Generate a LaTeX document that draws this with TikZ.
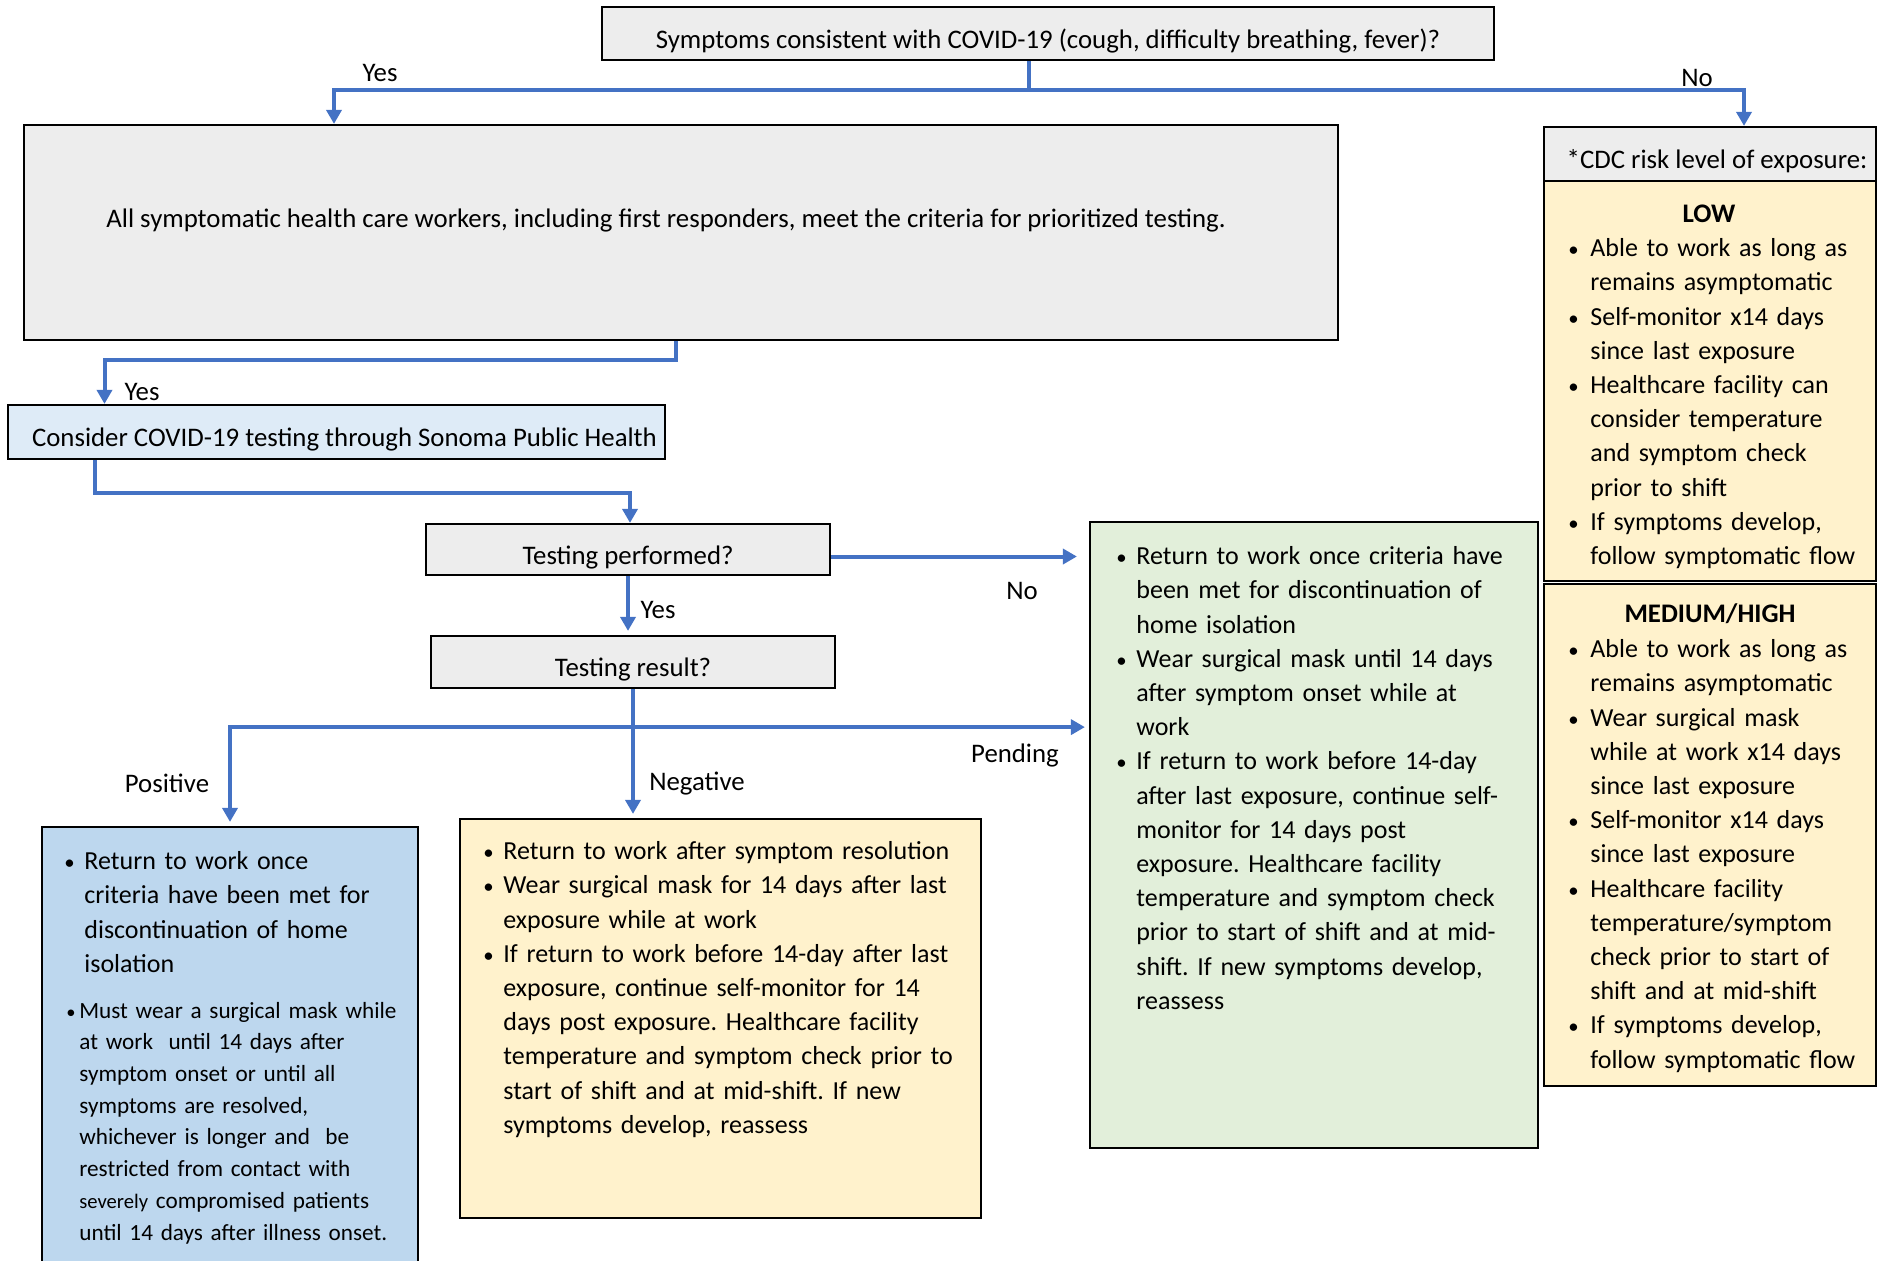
\documentclass[tikz,border=0pt]{standalone}
\usepackage{fontspec}
\setmainfont{Carlito}
\usetikzlibrary{arrows.meta,positioning}

\definecolor{flowblue}{HTML}{4472C4}
\definecolor{boxgray}{HTML}{EDEDED}
\definecolor{considerblue}{HTML}{DEEBF7}
\definecolor{posblue}{HTML}{BDD7EE}
\definecolor{negyellow}{HTML}{FFF2CC}
\definecolor{pendgreen}{HTML}{E2EFDA}

\newcommand{\bodyfont}{\fontsize{13.4}{17.1}\selectfont\frenchspacing}
\newcommand{\listfont}{\fontsize{13}{17.1}\selectfont\frenchspacing}
\newcommand{\smallbody}{\fontsize{11.6}{15.85}\selectfont\frenchspacing}
\newcommand{\itm}[1][10pt]{\par\leftskip=#1\noindent\llap{\makebox[#1][l]{\scalebox{0.8}{\textbullet}}}\ignorespaces}

\tikzset{
	box/.style={draw=black, line width=1.1pt, fill=boxgray, inner sep=0pt, font=\bodyfont, text height=14.5pt, text depth=0pt},
	flow/.style={draw=flowblue, line width=2pt, -{Triangle[length=7pt,width=7.5pt]}},
	lbl/.style={inner sep=0pt, font=\bodyfont},
	txt/.style={inner sep=0pt, anchor=north west, align=left, font=\listfont},
}

\begin{document}
\begin{tikzpicture}[x=0.5pt,y=-0.5pt]
	\clip (0,0) rectangle (1883,1260);
	\useasboundingbox (0,0) rectangle (1883,1260);

	% boxes
	\node[box, minimum width=446pt, minimum height=26.5pt] (q) at (1048,33.5) {Symptoms consistent with COVID-19 (cough, difficulty breathing, fever)?};
	\node[box, minimum width=657pt, minimum height=107.5pt] (allbox) at (681,232.5) {};
	\node[lbl] (alltext) at (666,220) {All symptomatic health care workers, including first responders, meet the criteria for prioritized testing.};
	\node[box, fill=considerblue, minimum width=328.5pt, minimum height=27pt] (consider) at (336.5,432) {\hspace*{8pt}Consider COVID-19 testing through Sonoma Public Health};
	\node[box, minimum width=202pt, minimum height=25.5pt] (tp) at (628,549.5) {Testing performed?};
	\node[box, minimum width=202pt, minimum height=26pt] (tr) at (633,662) {Testing result?};
	\node[box, fill=posblue, minimum width=188pt, minimum height=221.5pt] (pos) at (230,1048.5) {};
	\node[box, fill=negyellow, minimum width=260.5pt, minimum height=199.5pt] (neg) at (720.5,1018.5) {};
	\node[box, fill=pendgreen, minimum width=224pt, minimum height=313pt] (pend) at (1314,835) {};
	\node[box, minimum width=166pt, minimum height=27pt] (cdc) at (1710,154) {\hspace*{7pt}*CDC risk level of exposure:};
	\node[box, fill=negyellow, minimum width=166pt, minimum height=200pt] (low) at (1710,381) {};
	\node[box, fill=negyellow, minimum width=166pt, minimum height=251pt] (med) at (1710,835) {};

	% box texts
	\node[txt, text width=175pt] (postextA) at (64,835) {%
		\itm Return to work once\\ criteria have been met for\\ discontinuation of home\\ isolation\par};
	\node[txt, text width=180pt, font=\smallbody] (postextB) at (66,986) {%
		\itm[6.5pt] Must wear a surgical mask while\\ at work\ \ until 14 days after\\ symptom onset or until all\\ symptoms are resolved,\\ whichever is longer and\ \ be\\ restricted from contact with\\ {\fontsize{10.3}{15.85}\selectfont severely} compromised patients\\ until 14 days after illness onset.\par};
	\node[txt, text width=255pt] (negtext) at (483,825) {%
		\itm Return to work after symptom resolution
		\itm Wear surgical mask for 14 days after last\\ exposure while at work
		\itm If return to work before 14-day after last\\ exposure, continue self-monitor for 14\\ days post exposure. Healthcare facility\\ temperature and symptom check prior to\\ start of shift and at mid-shift. If new\\ symptoms develop, reassess\par};
	\node[txt, text width=215pt] (pendtext) at (1116,530) {%
		\itm Return to work once criteria have\\ been met for discontinuation of\\ home isolation
		\itm Wear surgical mask until 14 days\\ after symptom onset while at\\ work
		\itm If return to work before 14-day\\ after last exposure, continue self-\\ monitor for 14 days post\\ exposure. Healthcare facility\\ temperature and symptom check\\ prior to start of shift and at mid-\\ shift. If new symptoms develop,\\ reassess\par};
	\node[lbl, font=\bodyfont\bfseries] (lowhead) at (1709,214) {LOW};
	\node[txt, text width=160pt] (lowtext) at (1568,222) {%
		\itm[11pt] Able to work as long as\\ remains asymptomatic
		\itm[11pt] Self-monitor x14 days\\ since last exposure
		\itm[11pt] Healthcare facility can\\ consider temperature\\ and symptom check\\ prior to shift
		\itm[11pt] If symptoms develop,\\ follow symptomatic flow\par};
	\node[lbl, font=\bodyfont\bfseries] (medhead) at (1710,614) {MEDIUM/HIGH};
	\node[txt, text width=160pt] (medtext) at (1568,623) {%
		\itm[11pt] Able to work as long as\\ remains asymptomatic
		\itm[11pt] Wear surgical mask\\ while at work x14 days\\ since last exposure
		\itm[11pt] Self-monitor x14 days\\ since last exposure
		\itm[11pt] Healthcare facility\\ temperature/symptom\\ check prior to start of\\ shift and at mid-shift
		\itm[11pt] If symptoms develop,\\ follow symptomatic flow\par};

	% labels
	\node[lbl] (yes1) at (380,73) {Yes};
	\node[lbl] (no1) at (1697,78) {No};
	\node[lbl] (yes2) at (142,392) {Yes};
	\node[lbl] (no2) at (1022,591) {No};
	\node[lbl] (yes3) at (658,610) {Yes};
	\node[lbl] (positive) at (167,783) {Positive};
	\node[lbl] (negative) at (697,784) {Negative};
	\node[lbl] (pending) at (1015,755) {Pending};

	% connectors
	\draw[flow] ([xshift=-9.5pt]q.south) -- ++(0,29) -| ([xshift=-173.5pt]allbox.north);
	\draw[flow] ([xshift=-9.5pt]q.south) -- ++(0,29) -| ([xshift=17pt]cdc.north);
	\draw[flow] ([xshift=-2.5pt]allbox.south) -- ++(0,19) -| ([xshift=-116pt]consider.north);
	\draw[flow] ([xshift=-121pt]consider.south) -- ++(0,33) -| ([xshift=1pt]tp.north);
	\draw[flow, shorten >=6pt] ([yshift=-3.5pt]tp.east) -- ([yshift=-3.5pt]tp.east -| pend.west);
	\draw[flow, shorten >=2pt] (tp.south) -- (tp.south |- tr.north);
	\coordinate (split) at ([yshift=-19pt]tr.south);
	\draw[flow, shorten >=2pt] (tr.south) -- (tr.south |- neg.north);
	\draw[flow, shorten >=2pt] (split) -| (pos.north);
	\draw[flow, shorten >=2pt] (split) -- (split -| pend.west);
\end{tikzpicture}
\end{document}
